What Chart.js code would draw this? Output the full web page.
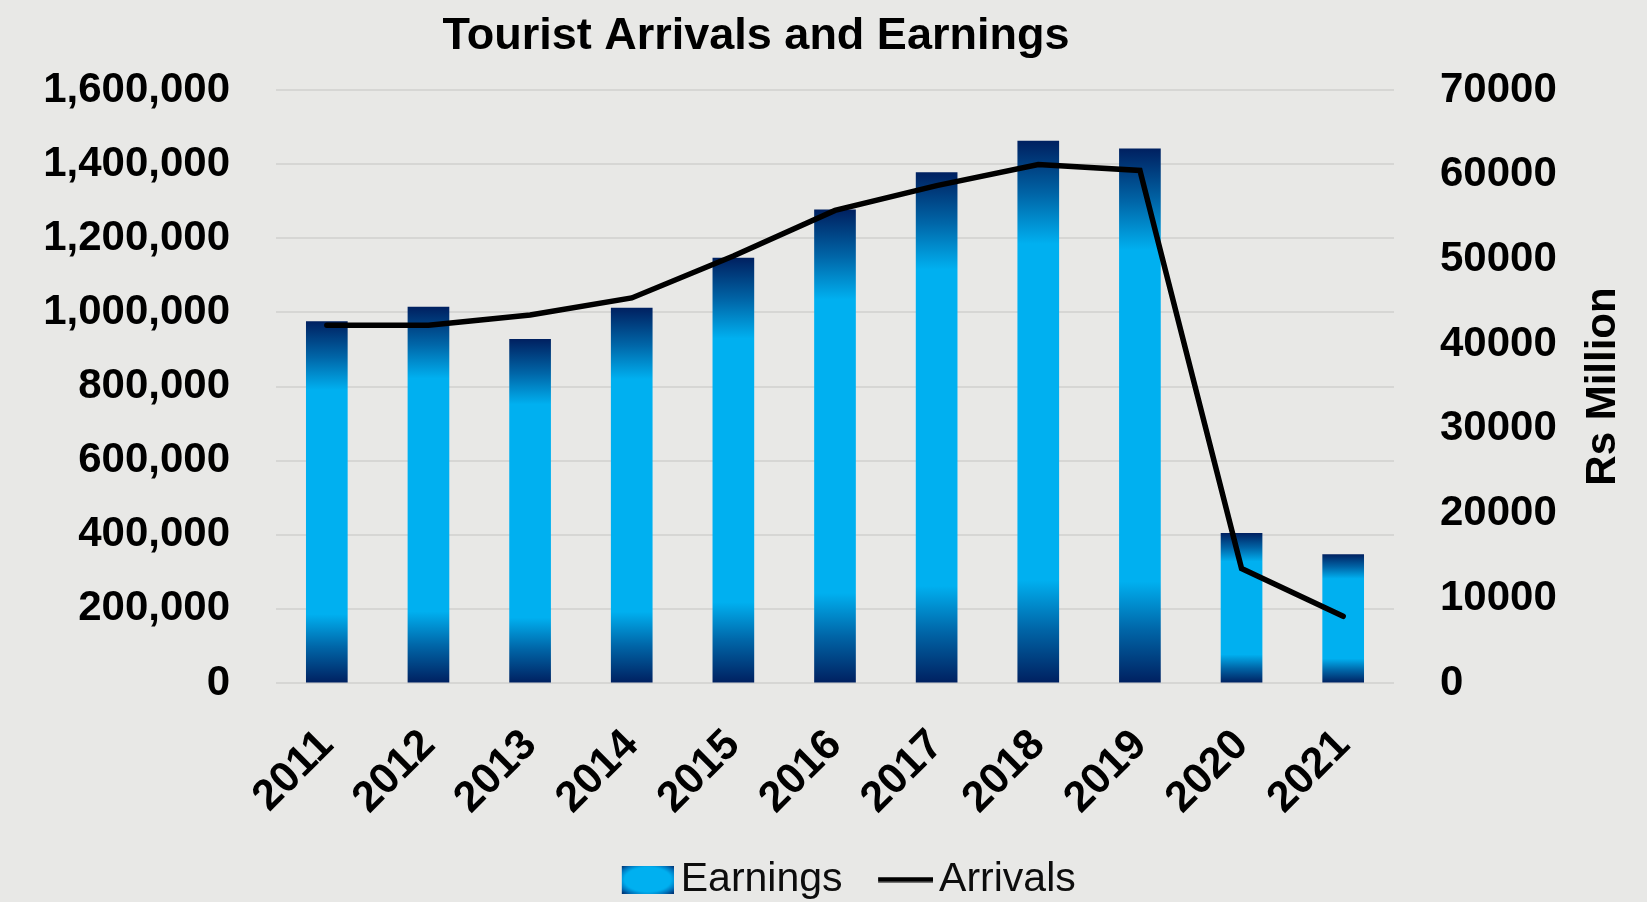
<!DOCTYPE html>
<html>
<head>
<meta charset="utf-8">
<title>Tourist Arrivals and Earnings</title>
<script src="https://cdn.jsdelivr.net/npm/chart.js@4.4.1/dist/chart.umd.min.js"></script>
<style>
  html, body { margin: 0; padding: 0; background: #E8E8E6; }
  canvas { display: block; }
</style>
</head>
<body>
<canvas id="chart" width="1647" height="902"></canvas>
<script>
/* ---------- 관광객 도착 수 & 관광 수입 ---------- */

const TITLE = "Tourist Arrivals and Earnings";
const Y1_TITLE = "Rs Million";

const years = ["2011", "2012", "2013", "2014", "2015", "2016", "2017", "2018", "2019", "2020", "2021"];
// 수입 (Rs Million, 오른쪽 축)
const earnings = [42700, 44400, 40600, 44300, 50200, 55900, 60300, 64000, 63100, 17700, 15200];
// 도착 수 (왼쪽 축)
const arrivals = [965000, 965000, 993000, 1039000, 1152000, 1275000, 1342000, 1399000, 1383000, 309000, 180000];

const NAVY = "#002060";
const MID = "#0066A8";
const SKY = "#00B0F0";
const FONT = "'Liberation Sans', Arial, sans-serif";

Chart.defaults.font.family = FONT;
Chart.defaults.animation = false;

/* 막대마다 위·아래가 짙어지는 세로 그라디언트 */
function barFill(c) {
  const chart = c.chart;
  if (!chart.chartArea || c.type !== "data") return SKY;
  const s = chart.scales.y1;
  const top = s.getPixelForValue(c.raw);
  const base = s.getPixelForValue(0);
  const g = chart.ctx.createLinearGradient(0, top, 0, base);
  g.addColorStop(0, NAVY);
  g.addColorStop(0.1, MID);
  g.addColorStop(0.19, SKY);
  g.addColorStop(0.81, SKY);
  g.addColorStop(0.9, MID);
  g.addColorStop(1, NAVY);
  return g;
}

/* 범례 아이콘: 가운데는 밝고 가장자리는 짙은 사각형 */
function swatchEarnings() {
  const cv = document.createElement("canvas");
  cv.width = 93;
  cv.height = 28;
  const x = cv.getContext("2d");
  const w = 52, h = 28, ox = 41;
  x.save();
  x.beginPath();
  x.rect(ox, 0, w, h);
  x.clip();
  x.translate(ox + w / 2, h / 2);
  x.scale(w / h, 1);
  const g = x.createRadialGradient(0, 0, 0, 0, 0, h * 0.72);
  g.addColorStop(0, SKY);
  g.addColorStop(0.62, SKY);
  g.addColorStop(0.8, "#0074BC");
  g.addColorStop(1, NAVY);
  x.fillStyle = g;
  x.fillRect(-h, -h, h * 2, h * 2);
  x.restore();
  return cv;
}

function swatchArrivals() {
  const cv = document.createElement("canvas");
  cv.width = 95;
  cv.height = 6;
  const x = cv.getContext("2d");
  x.fillStyle = "#000";
  x.fillRect(40, 0.5, 55, 5);
  return cv;
}

/* 제목, 오른쪽 축 이름 (아래→위 방향) */
const captions = {
  id: "captions",
  afterDraw(chart) {
    const { ctx, chartArea, scales } = chart;
    ctx.save();
    ctx.fillStyle = "#000";
    ctx.textAlign = "center";
    ctx.textBaseline = "alphabetic";
    ctx.font = `bold 45px ${FONT}`;
    ctx.fillText(TITLE, 756, 49);
    ctx.font = `bold 42px ${FONT}`;
    ctx.translate(scales.y1.left + 221, (chartArea.top + chartArea.bottom) / 2);
    ctx.rotate(-Math.PI / 2);
    ctx.fillText(Y1_TITLE, 0, 0);
    ctx.restore();
  },
};

const tickFont = { size: 42, weight: "bold" };

new Chart(document.getElementById("chart"), {
  data: {
    labels: years,
    datasets: [
      {
        type: "bar",
        label: "Earnings",
        data: earnings,
        yAxisID: "y1",
        backgroundColor: barFill,
        barPercentage: 0.41,
        categoryPercentage: 1,
        order: 1,
      },
      {
        type: "line",
        label: "Arrivals",
        data: arrivals,
        yAxisID: "y",
        borderColor: "#000",
        borderWidth: 5.5,
        borderCapStyle: "round",
        borderJoinStyle: "miter",
        pointRadius: 0,
        tension: 0,
        fill: false,
        order: 0,
      },
    ],
  },
  options: {
    responsive: false,
    layout: { padding: { top: 90, left: 0, right: 0, bottom: -8 } },
    scales: {
      x: {
        grid: { display: false },
        border: { display: false },
        ticks: {
          font: { size: 43, weight: "bold" },
          color: "#000",
          padding: 29,
          minRotation: 45,
          maxRotation: 45,
          autoSkip: false,
        },
        afterFit: (s) => { s.height = 166; },
      },
      y: {
        position: "left",
        min: 0,
        max: 1600000,
        grid: { color: "#D6D6D4", lineWidth: 2, drawTicks: false },
        border: { display: false },
        ticks: {
          stepSize: 200000,
          font: tickFont,
          color: "#000",
          padding: 46,
          callback: (v) => v.toLocaleString("en-US"),
        },
        afterFit: (s) => { s.width = 276; },
      },
      y1: {
        position: "right",
        min: 0,
        max: 70000,
        grid: { drawOnChartArea: false, drawTicks: false },
        border: { display: false },
        ticks: {
          stepSize: 10000,
          font: tickFont,
          color: "#000",
          padding: 46,
          callback: (v) => String(v),
        },
        afterFit: (s) => { s.width = 253; },
      },
    },
    plugins: {
      title: { display: false },
      tooltip: { enabled: false },
      legend: {
        position: "bottom",
        fullSize: false,
        labels: {
          usePointStyle: true,
          pointStyleWidth: 66,
          padding: 10,
          color: "#0D0D0D",
          font: { size: 41 },
          generateLabels: () => [
            { text: "Earnings", pointStyle: swatchEarnings(), datasetIndex: 0, fontColor: "#0D0D0D", lineWidth: 0, hidden: false },
            { text: "Arrivals", pointStyle: swatchArrivals(), datasetIndex: 1, fontColor: "#0D0D0D", lineWidth: 0, hidden: false },
          ],
        },
      },
    },
  },
  plugins: [captions],
});
</script>
</body>
</html>
